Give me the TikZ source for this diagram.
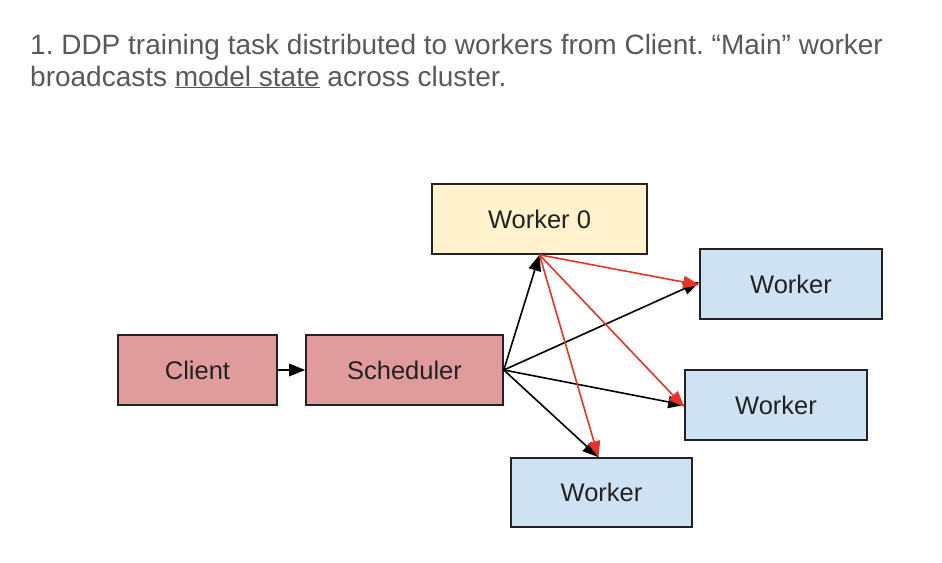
\documentclass[tikz,border=0pt]{standalone}
\usepackage{fontspec}
\setmainfont{Liberation Sans}
\usetikzlibrary{arrows.meta}
\definecolor{titlegray}{HTML}{595959}
\definecolor{redfill}{HTML}{E09C9C}
\definecolor{bluefill}{HTML}{CFE2F3}
\definecolor{yellowfill}{HTML}{FFF2CC}
\definecolor{edge}{HTML}{222222}
\definecolor{redline}{HTML}{E8332A}
\tikzset{
  box/.style={draw=edge, line width=1.6pt, font=\fontsize{25.5}{30}\selectfont, text=edge, inner sep=0pt},
  conn/.style={line width=1.6pt, -{Triangle[length=16pt,width=12.5pt]}},
  blk/.style={conn, draw=black},
  rd/.style={conn, draw=redline},
  titletext/.style={font=\fontsize{28}{32}\selectfont\frenchspacing, text=titlegray, anchor=base west, inner sep=0pt}
}
\begin{document}
\begin{tikzpicture}[x=1pt,y=-1pt]
\useasboundingbox (0,0) rectangle (942,562);
\node[titletext] (t1) at (30,54) {1. DDP training task distributed to workers from Client. “Main” worker};
\node[titletext] (t2) at (30,86) {broadcasts \underline{model state} across cluster.};
\node[box, fill=redfill, minimum width=159pt, minimum height=70pt] (client) at (197.5,370) {Client};
\node[box, fill=redfill, minimum width=197pt, minimum height=70pt] (sched) at (404.5,370) {Scheduler};
\node[box, fill=yellowfill, minimum width=215pt, minimum height=70pt] (w0) at (539.5,219) {Worker 0};
\node[box, fill=bluefill, minimum width=182pt, minimum height=70pt] (w1) at (791,284) {Worker};
\node[box, fill=bluefill, minimum width=182pt, minimum height=70pt] (w2) at (776,405) {Worker};
\node[box, fill=bluefill, minimum width=181pt, minimum height=69pt] (w3) at (601.5,492.5) {Worker};
\draw[blk] (client.east) -- (sched.west);
\draw[blk] (sched.east) -- (w0.south);
\draw[blk] (sched.east) -- ([yshift=2pt]w1.west);
\draw[blk] (sched.east) -- (w2.west);
\draw[blk] (sched.east) -- ([xshift=-3pt]w3.north);
\draw[rd] (w0.south) -- ([yshift=-1pt]w1.west);
\draw[rd] (w0.south) -- ([yshift=-2pt]w2.west);
\draw[rd] (w0.south) -- ([xshift=-3pt]w3.north);
\end{tikzpicture}
\end{document}
